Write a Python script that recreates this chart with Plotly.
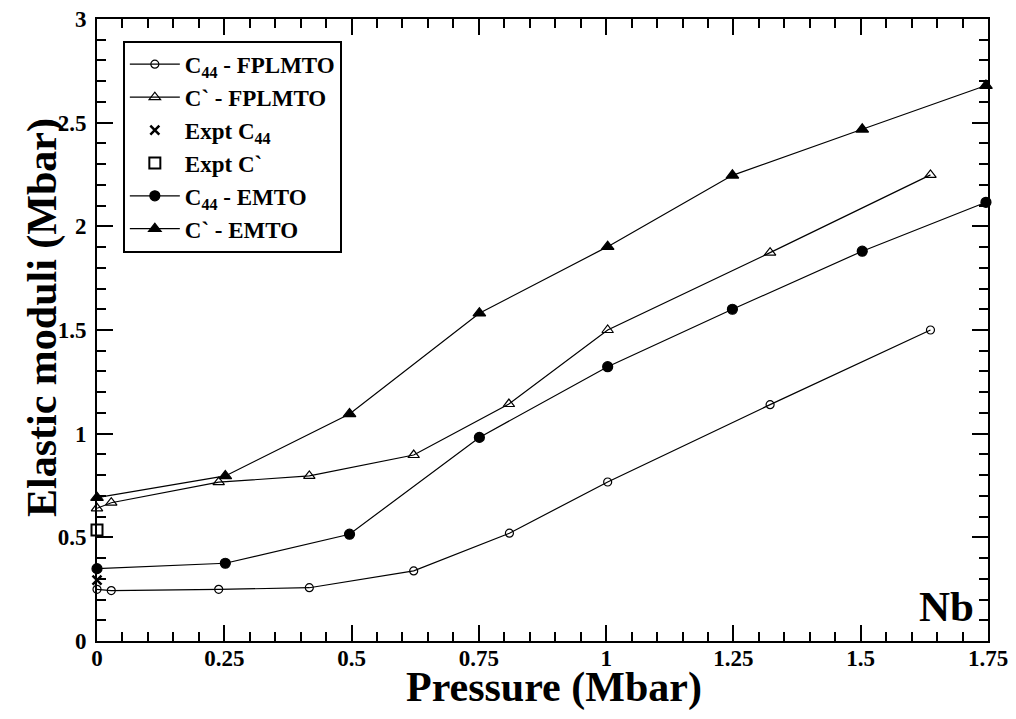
import plotly.graph_objects as go

# FPLMTO data
fp_p = [0.0, 0.028, 0.239, 0.417, 0.622, 0.810, 1.003, 1.322, 1.637]
fp_c44 = [0.249, 0.243, 0.249, 0.257, 0.338, 0.520, 0.767, 1.140, 1.500]
fp_cp_p = [0.0, 0.028, 0.239, 0.417, 0.622, 0.809, 1.003, 1.322, 1.637]
fp_cp = [0.640, 0.667, 0.766, 0.796, 0.897, 1.143, 1.500, 1.873, 2.248]

# EMTO data
em_p = [0.0, 0.252, 0.496, 0.751, 1.003, 1.248, 1.503, 1.746]
em_c44 = [0.349, 0.375, 0.515, 0.982, 1.323, 1.600, 1.880, 2.116]
em_cp = [0.691, 0.796, 1.095, 1.581, 1.902, 2.246, 2.468, 2.679]

# Experiment
expt_p = [0.0]
expt_c44 = [0.294]
expt_cp = [0.535]

x_ticks = [0, 0.25, 0.5, 0.75, 1.0, 1.25, 1.5, 1.75]
x_labels = ["0", "0.25", "0.5", "0.75", "1", "1.25", "1.5", "1.75"]
y_ticks = [0, 0.5, 1.0, 1.5, 2.0, 2.5, 3.0]
y_labels = ["0", "0.5", "1", "1.5", "2", "2.5", "3"]

FONT = "Liberation Serif"
BLACK = "black"

W, H = 1016, 719
ML, MR, MT, MB = 97, 28, 19, 78

fig = go.Figure()

def add_line(x, y, name, symbol, size):
    fig.add_trace(go.Scatter(
        x=x, y=y, name=name, mode="lines+markers",
        line=dict(color=BLACK, width=1.2),
        marker=dict(symbol=symbol, size=size, color=BLACK,
                    line=dict(color=BLACK, width=1.2)),
        cliponaxis=False,
    ))

add_line(fp_p, fp_c44, "C<sub>44</sub> - FPLMTO", "circle-open", 8)
add_line(fp_cp_p, fp_cp, "C` - FPLMTO", "triangle-up-open", 10)
fig.add_trace(go.Scatter(
    x=expt_p, y=expt_c44, name="Expt C<sub>44</sub>", mode="markers",
    marker=dict(symbol="x-thin", size=9, color=BLACK, line=dict(color=BLACK, width=2.5)),
    cliponaxis=False,
))
fig.add_trace(go.Scatter(
    x=expt_p, y=expt_cp, name="Expt C`", mode="markers",
    marker=dict(symbol="square-open", size=11, color=BLACK, line=dict(color=BLACK, width=2)),
    cliponaxis=False,
))
add_line(em_p, em_c44, "C<sub>44</sub> - EMTO", "circle", 10)
add_line(em_p, em_cp, "C` - EMTO", "triangle-up", 11)

axis_common = dict(
    showline=True, linecolor=BLACK, linewidth=2, mirror="allticks",
    ticks="inside", ticklen=16, tickwidth=2, tickcolor=BLACK,
    showgrid=False, zeroline=False, automargin=False,
    tickfont=dict(family=FONT, size=23, color=BLACK, weight="bold"),
)

fig.update_xaxes(
    range=[0, 1.75], tickvals=x_ticks, ticktext=x_labels,
    minor=dict(ticks="inside", ticklen=9, tickwidth=2, tickcolor=BLACK, dtick=0.05, tick0=0),
    ticklabelstandoff=-5,
    **axis_common,
)
fig.update_yaxes(
    range=[0, 3], tickvals=y_ticks, ticktext=y_labels,
    minor=dict(ticks="inside", ticklen=9, tickwidth=2, tickcolor=BLACK, dtick=0.1, tick0=0),
    ticklabelstandoff=4,
    **axis_common,
)

pw = W - ML - MR
ph = H - MT - MB

# axis titles as annotations for precise placement
fig.add_annotation(
    text="Pressure (Mbar)", xref="paper", yref="paper",
    x=(554 - ML) / pw, y=-(687 - (H - MB)) / ph,
    xanchor="center", yanchor="middle", showarrow=False,
    font=dict(family=FONT, size=42, color=BLACK, weight="bold"),
)
fig.add_annotation(
    text="Elastic moduli (Mbar)", xref="paper", yref="paper",
    x=-(ML - 42) / pw, y=((H - MB) - 318) / ph, textangle=-90,
    xanchor="center", yanchor="middle", showarrow=False,
    font=dict(family=FONT, size=42, color=BLACK, weight="bold"),
)

fig.add_annotation(
    text="Nb", xref="paper", yref="paper", x=0.986, y=0.055,
    xanchor="right", yanchor="middle", showarrow=False,
    font=dict(family=FONT, size=43, color=BLACK, weight="bold"),
)

fig.update_layout(
    width=W, height=H,
    margin=dict(l=ML, r=MR, t=MT, b=MB, autoexpand=False),
    paper_bgcolor="white", plot_bgcolor="white",
    showlegend=True,
    legend=dict(
        x=0.029, y=0.965, xanchor="left", yanchor="top",
        bgcolor="white", bordercolor=BLACK, borderwidth=2,
        font=dict(family=FONT, size=23, color=BLACK, weight="bold"),
        tracegroupgap=0, itemwidth=50,
    ),
)

fig.write_html(
    "out.html",
    config={"displayModeBar": False},
    post_script="document.body.style.margin='0';document.body.style.padding='0';",
)
